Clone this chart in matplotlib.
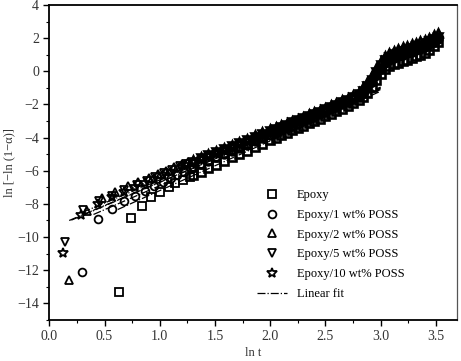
from matplotlib import pyplot as plt
from matplotlib.ticker import MultipleLocator
import numpy as np

plt.rcParams['font.family'] = ['Liberation Serif', 'DejaVu Serif']

labels = ['Epoxy', 'Epoxy/1 wt% POSS', 'Epoxy/2 wt% POSS',
          'Epoxy/5 wt% POSS', 'Epoxy/10 wt% POSS']
markers = ['s', 'o', '^', 'v', '*']
marker_sizes = [5.2, 5.6, 6.2, 6.2, 7.2]

# early (sparse) points of each series: ln t, ln[-ln(1-a)]
early_x = [
    [0.634, 0.74, 0.836, 0.92, 1.0, 1.08, 1.14, 1.21, 1.27],
    [0.296, 0.44, 0.567, 0.68, 0.78, 0.87, 0.95, 1.03, 1.1, 1.16, 1.22, 1.28],
    [0.18, 0.344, 0.477, 0.595, 0.71, 0.806, 0.9, 0.98, 1.06, 1.13, 1.2, 1.26],
    [0.142, 0.308, 0.45, 0.57, 0.68, 0.79, 0.88, 0.96, 1.04, 1.11, 1.18, 1.24],
    [0.127, 0.287, 0.44, 0.57, 0.68, 0.78, 0.87, 0.95, 1.03, 1.1, 1.17, 1.23],
]
early_y = [
    [-13.31, -8.88, -8.1, -7.58, -7.27, -6.97, -6.77, -6.57, -6.38],
    [-12.14, -8.94, -8.28, -7.85, -7.5, -7.2, -6.93, -6.68, -6.45, -6.25, -6.05, -5.87],
    [-12.6, -8.42, -7.67, -7.27, -6.93, -6.67, -6.45, -6.22, -6.0, -5.8, -5.62, -5.45],
    [-10.33, -8.34, -7.85, -7.5, -7.17, -6.87, -6.6, -6.37, -6.14, -5.93, -5.74, -5.57],
    [-10.96, -8.68, -7.98, -7.6, -7.27, -6.98, -6.72, -6.5, -6.27, -6.06, -5.86, -5.68],
]

# dense part, shared ln t grid
band_x = [1.3, 1.37, 1.44, 1.51, 1.58, 1.65, 1.72, 1.79, 1.86, 1.93, 2.0,
          2.05, 2.1, 2.15, 2.2, 2.25, 2.3, 2.35, 2.4, 2.45, 2.5, 2.55, 2.6,
          2.65, 2.7, 2.75, 2.8,
          2.84, 2.88, 2.92, 2.96, 3.0, 3.04, 3.08, 3.12, 3.16, 3.2, 3.24,
          3.28, 3.32, 3.36, 3.4, 3.44, 3.48, 3.52]
band_y_epoxy = [-6.28, -6.06, -5.85, -5.63, -5.41, -5.2, -4.99, -4.78, -4.57, -4.36, -4.16,
                -4.01, -3.86, -3.72, -3.57, -3.42, -3.28, -3.13, -2.99, -2.85, -2.7, -2.55, -2.4,
                -2.25, -2.1, -1.93, -1.75,
                -1.55, -1.3, -0.95, -0.52, -0.15, 0.15, 0.32, 0.44, 0.53, 0.62, 0.71,
                0.8, 0.9, 1.0, 1.1, 1.3, 1.52, 1.75]
band_y_1 = [-5.8, -5.6, -5.4, -5.2, -5.01, -4.81, -4.62, -4.42, -4.23, -4.04, -3.85,
            -3.71, -3.57, -3.44, -3.3, -3.16, -3.02, -2.88, -2.73, -2.59, -2.45, -2.3, -2.15,
            -2.0, -1.85, -1.68, -1.5,
            -1.3, -1.02, -0.65, -0.22, 0.17, 0.5, 0.69, 0.82, 0.91, 1.0, 1.09,
            1.18, 1.27, 1.36, 1.45, 1.62, 1.78, 1.95]
band_y_2 = [-5.33, -5.15, -4.97, -4.78, -4.6, -4.42, -4.24, -4.06, -3.87, -3.69, -3.51,
            -3.38, -3.25, -3.12, -2.99, -2.86, -2.73, -2.6, -2.46, -2.33, -2.2, -2.05, -1.9,
            -1.75, -1.6, -1.41, -1.22,
            -0.97, -0.65, -0.25, 0.22, 0.62, 0.95, 1.12, 1.25, 1.35, 1.45, 1.54,
            1.63, 1.72, 1.81, 1.9, 2.03, 2.17, 2.3]
band_y_5 = [-5.45, -5.26, -5.08, -4.89, -4.7, -4.52, -4.33, -4.14, -3.96, -3.77, -3.59,
            -3.46, -3.34, -3.21, -3.08, -2.95, -2.82, -2.69, -2.56, -2.43, -2.3, -2.16, -2.01,
            -1.87, -1.72, -1.55, -1.38,
            -1.16, -0.87, -0.5, -0.03, 0.37, 0.7, 0.89, 1.03, 1.13, 1.22, 1.31,
            1.4, 1.5, 1.59, 1.68, 1.82, 1.96, 2.1]
band_y_10 = [-5.5, -5.32, -5.14, -4.95, -4.77, -4.59, -4.4, -4.22, -4.04, -3.85, -3.67,
             -3.54, -3.41, -3.28, -3.15, -3.02, -2.89, -2.76, -2.64, -2.51, -2.38, -2.24, -2.09,
             -1.95, -1.8, -1.63, -1.45,
             -1.25, -0.97, -0.6, -0.17, 0.22, 0.55, 0.75, 0.9, 1.0, 1.1, 1.2,
             1.3, 1.4, 1.49, 1.58, 1.72, 1.86, 2.0]
band_y = [band_y_epoxy, band_y_1, band_y_2, band_y_5, band_y_10]

# Avrami linear fits: slope n, intercept ln k, fitted ln t range
fit_slope = [3.0, 2.9, 2.8, 2.85, 2.82]
fit_intercept = [-10.2, -9.8, -9.35, -9.55, -9.51]
fit_start = [0.62, 0.4, 0.3, 0.2, 0.18]
fit_end = [3.0, 3.0, 3.0, 3.0, 3.0]

fig = plt.figure(figsize=(4.61, 3.61), dpi=100)
ax = fig.add_axes([0.107, 0.114, 0.884, 0.872])

for i in range(len(labels)):
    # sparse start, then the overlapping dense part drawn heavier
    ax.plot(early_x[i], early_y[i], ls='none', marker=markers[i], ms=marker_sizes[i],
            mfc='none', mec='black', mew=1.3, label=labels[i])
    ax.plot(band_x, band_y[i], ls='none', marker=markers[i], ms=marker_sizes[i],
            mfc='none', mec='black', mew=1.9)

for i in range(len(fit_slope)):
    xf = np.array([fit_start[i], fit_end[i]])
    yf = fit_slope[i] * xf + fit_intercept[i]
    ax.plot(xf, yf, color='black', lw=0.9, ls='-.',
            label='Linear fit' if i == 0 else None)

ax.set_xlim(0, 3.69)
ax.set_ylim(-15, 4)
ax.xaxis.set_major_locator(MultipleLocator(0.5))
ax.xaxis.set_minor_locator(MultipleLocator(0.25))
ax.yaxis.set_major_locator(MultipleLocator(2))
ax.yaxis.set_minor_locator(MultipleLocator(1))
ax.xaxis.set_major_formatter(plt.FuncFormatter(lambda v, p: '%.1f' % v))
ax.yaxis.set_major_formatter(plt.FuncFormatter(lambda v, p: ('%d' % v).replace('-', '\u2212')))
ax.tick_params(which='major', direction='out', length=4, width=1.0,
               labelsize=10, labelcolor='#333333', top=False, right=False)
ax.tick_params(which='minor', direction='out', length=2.5, width=0.8,
               top=False, right=False)
for s in ['left', 'bottom', 'top']:
    ax.spines[s].set_linewidth(1.3)
ax.spines['right'].set_linewidth(0.9)
ax.spines['right'].set_color('#555555')

ax.set_xlabel('ln t', fontsize=9, color='#333333', labelpad=3)
ax.set_ylabel('ln [\u2212ln (1\u2212\u03b1)]', fontsize=9, color='#333333', labelpad=1)

ax.legend(loc='upper left', bbox_to_anchor=(0.51, 0.415), frameon=False,
          fontsize=9, numpoints=1, handlelength=2.4, handletextpad=0.8,
          labelspacing=0.62, borderpad=0, borderaxespad=0)

fig.savefig('out.png', dpi=100)
